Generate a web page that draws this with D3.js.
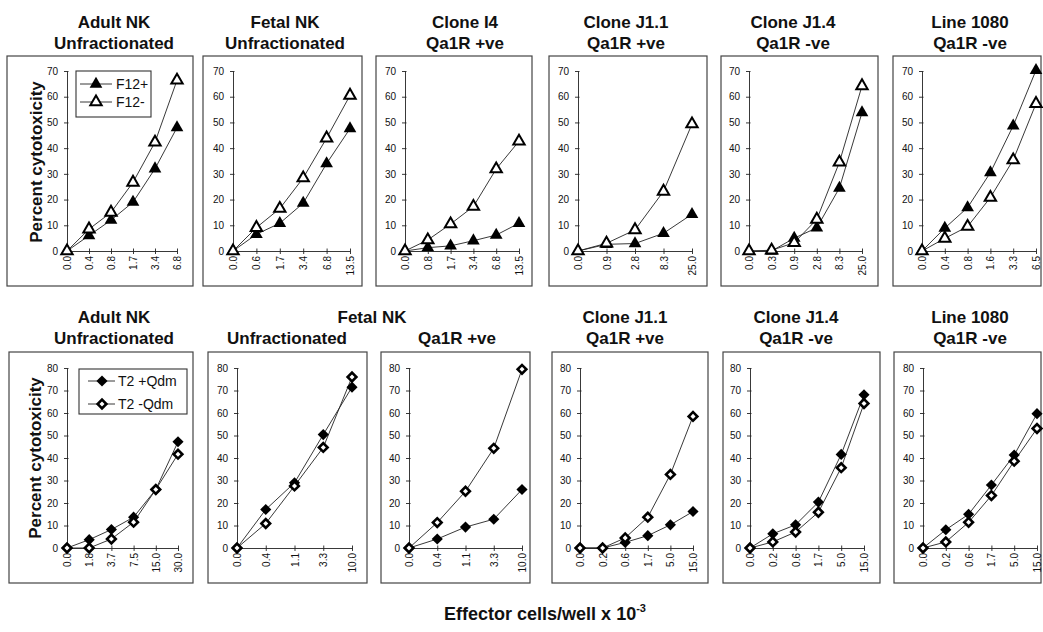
<html>
<head>
  <title>cytotoxicity panels with D3.js</title>
  <meta charset="UTF-8">
  <script src="https://d3js.org/d3.v7.min.js"></script>
  <style>
    body { margin: 0; background: #ffffff; }
    svg { font-family: Arial, "Liberation Sans", Helvetica, sans-serif; }
    .title { font-weight: bold; font-size: 17px; text-anchor: middle; fill: #111; }
    .axis text { font-size: 10px; fill: #111; }
    .axis path, .axis line { stroke: #222; stroke-width: 0.9; }
    .frame { fill: none; stroke: #444; stroke-width: 1.2; }
    .series { fill: none; stroke: #222; stroke-width: 0.9; }
    .legendText { font-size: 14px; fill: #111; }
    .ylabel { font-weight: bold; font-size: 17px; fill: #111; }
  </style>
</head>
<body>
<div id="holder"></div>
<script>
// ---- data ----
var topTitles = [
  ["Adult NK", "Unfractionated"],
  ["Fetal NK", "Unfractionated"],
  ["Clone I4", "Qa1R +ve"],
  ["Clone J1.1", "Qa1R +ve"],
  ["Clone J1.4", "Qa1R -ve"],
  ["Line 1080", "Qa1R -ve"]
];
var topCats = [
  ["0.0", "0.4", "0.8", "1.7", "3.4", "6.8"],
  ["0.0", "0.6", "1.7", "3.4", "6.8", "13.5"],
  ["0.0", "0.8", "1.7", "3.4", "6.8", "13.5"],
  ["0.0", "0.9", "2.8", "8.3", "25.0"],
  ["0.0", "0.3", "0.9", "2.8", "8.3", "25.0"],
  ["0.0", "0.4", "0.8", "1.6", "3.3", "6.5"]
];
var f12Plus = [
  [0, 6, 12, 19, 32, 48],
  [0, 6.5, 10.8, 18.6, 34, 47.6],
  [0, 1.3, 2, 4, 6.2, 10.8],
  [0, 2.6, 2.9, 6.9, 14.3],
  [0, 0, 5, 9, 24.5, 53.8],
  [0, 8.9, 16.9, 30.5, 48.7, 70.3]
];
var f12Minus = [
  [0, 8.5, 15, 26.7, 42.3, 66.4],
  [0, 9.1, 16.5, 28.4, 43.9, 60.5],
  [0, 4.3, 10.5, 17.3, 31.9, 42.7],
  [0, 3, 8.2, 23.2, 49.4],
  [0, 0.3, 3.2, 12.3, 34.5, 64.2],
  [0, 4.9, 9.5, 20.8, 35.4, 57.3]
];
var topYTicks = [0, 10, 20, 30, 40, 50, 60, 70];

var botTitles = [
  ["Adult NK", "Unfractionated"],
  ["", "Unfractionated"],
  ["", "Qa1R +ve"],
  ["Clone J1.1", "Qa1R +ve"],
  ["Clone J1.4", "Qa1R -ve"],
  ["Line 1080", "Qa1R -ve"]
];
var botSpanTitle = "Fetal NK";
var botCats = [
  ["0.0", "1.8", "3.7", "7.5", "15.0", "30.0"],
  ["0.0", "0.4", "1.1", "3.3", "10.0"],
  ["0.0", "0.4", "1.1", "3.3", "10.0"],
  ["0.0", "0.2", "0.6", "1.7", "5.0", "15.0"],
  ["0.0", "0.2", "0.6", "1.7", "5.0", "15.0"],
  ["0.0", "0.2", "0.6", "1.7", "5.0", "15.0"]
];
var t2Plus = [
  [0, 3.7, 8.2, 13.7, 26, 47.2],
  [0, 17.1, 29, 50.4, 71.5],
  [0, 4, 9.3, 12.8, 26],
  [0, 0, 2.5, 5.5, 10.3, 16.2],
  [0, 6.3, 10.3, 20.4, 41.6, 68.1],
  [0, 8.1, 15, 28, 41.3, 59.7]
];
var t2Minus = [
  [0, 0, 4, 11.5, 26, 41.7],
  [0, 10.9, 27.6, 44.7, 76],
  [0, 11.3, 25.2, 44.3, 79.4],
  [0, 0, 4.5, 13.7, 32.7, 58.5],
  [0, 2.7, 7.1, 15.9, 35.7, 64.2],
  [0, 2.7, 11.4, 23.3, 38.6, 53.1]
];
var botYTicks = [0, 10, 20, 30, 40, 50, 60, 70, 80];

// ---- layout ----
var W = 1043, H = 632;
var topBox = [[7, 193], [203, 362], [376, 532], [549, 707], [721, 878], [893, 1041]];
var topPlot = [[67, 177], [233, 350], [405, 519], [578, 692], [749, 862], [922, 1036]];
var topTitleX = [114, 285, 465, 626, 793, 970];
var botBox = [[9, 193], [208, 367], [381, 530], [552, 708], [723, 880], [894, 1041]];
var botPlot = [[67, 178], [237, 352], [409, 522], [580, 693], [750, 864], [923, 1037]];
var botTitleX = [114, 287, 457, 625, 796, 970];

var svg = d3.select("#holder").append("svg")
  .attr("width", W)
  .attr("height", H);

var triangle = d3.symbol().type(d3.symbolTriangle).size(70);
var triangleOpen = d3.symbol().type(d3.symbolTriangle).size(56);
var diamond = d3.symbol().type(d3.symbolSquare).size(62);
var diamondOpen = d3.symbol().type(d3.symbolSquare).size(38);

function drawMarkers(g, pts, kind) {
  var sel = g.selectAll(null).data(pts).enter().append("path")
    .attr("transform", function(d) {
      return "translate(" + d[0] + "," + d[1] + ")" + (kind.indexOf("dia") === 0 ? " rotate(45)" : "");
    });
  if (kind === "triFill") sel.attr("d", triangle).attr("fill", "#000");
  if (kind === "triOpen") sel.attr("d", triangleOpen).attr("fill", "#fff").attr("stroke", "#000").attr("stroke-width", 2);
  if (kind === "diaFill") sel.attr("d", diamond).attr("fill", "#000");
  if (kind === "diaOpen") sel.attr("d", diamondOpen).attr("fill", "#fff").attr("stroke", "#000").attr("stroke-width", 2.6);
}

function drawPanel(row, i) {
  var isTop = row === "top";
  var box = isTop ? topBox[i] : botBox[i];
  var plot = isTop ? topPlot[i] : botPlot[i];
  var cats = isTop ? topCats[i] : botCats[i];
  var s1 = isTop ? f12Plus[i] : t2Plus[i];
  var s2 = isTop ? f12Minus[i] : t2Minus[i];
  var yTicks = isTop ? topYTicks : botYTicks;
  var boxTop = isTop ? 56 : 352, boxBot = isTop ? 286 : 583;
  var yRange = isTop ? [251, 71] : [548, 368];
  var titles = isTop ? topTitles[i] : botTitles[i];
  var tx = isTop ? topTitleX[i] : botTitleX[i];
  var t1y = isTop ? 28 : 323, t2y = isTop ? 49 : 344;

  var g = svg.append("g").attr("class", "panel");

  g.append("rect").attr("class", "frame")
    .attr("x", box[0]).attr("y", boxTop)
    .attr("width", box[1] - box[0]).attr("height", boxBot - boxTop);

  if (titles[0]) g.append("text").attr("class", "title").attr("x", tx).attr("y", t1y).text(titles[0]);
  g.append("text").attr("class", "title").attr("x", tx).attr("y", t2y).text(titles[1]);

  var x = d3.scalePoint().domain(cats).range(plot).padding(0);
  var y = d3.scaleLinear().domain([0, yTicks[yTicks.length - 1]]).range(yRange);

  var gy = g.append("g").attr("class", "axis")
    .attr("transform", "translate(" + plot[0] + ",0)")
    .call(d3.axisLeft(y).tickValues(yTicks).tickSize(3).tickSizeOuter(0).tickPadding(6));
  gy.selectAll(".tick line").attr("x1", 1.5);

  var gx = g.append("g").attr("class", "axis")
    .attr("transform", "translate(0," + y(0) + ")")
    .call(d3.axisBottom(x).tickSize(3).tickSizeOuter(0));
  gx.selectAll(".tick line").attr("y1", -2.5);
  gx.selectAll(".tick text")
    .attr("y", 0).attr("x", -5).attr("dy", "0.35em")
    .attr("transform", "rotate(-90)")
    .style("text-anchor", "end");

  var line = d3.line();
  var p1 = cats.map(function(c, k) { return [x(c), y(s1[k])]; });
  var p2 = cats.map(function(c, k) { return [x(c), y(s2[k])]; });
  g.append("path").attr("class", "series").attr("d", line(p1));
  g.append("path").attr("class", "series").attr("d", line(p2));
  drawMarkers(g, p1, isTop ? "triFill" : "diaFill");
  drawMarkers(g, p2, isTop ? "triOpen" : "diaOpen");
}

for (var i = 0; i < 6; i++) {
  drawPanel("top", i);
  drawPanel("bot", i);
}

// spanning title over the bottom fetal panels
svg.append("text").attr("class", "title").attr("x", 372).attr("y", 323).text(botSpanTitle);

// y labels
svg.append("text").attr("class", "ylabel")
  .attr("transform", "translate(36,162) rotate(-90)")
  .attr("text-anchor", "middle").attr("dy", "0.35em")
  .text("Percent cytotoxicity");
svg.append("text").attr("class", "ylabel")
  .attr("transform", "translate(35,458) rotate(-90)")
  .attr("text-anchor", "middle").attr("dy", "0.35em")
  .text("Percent cytotoxicity");

// legends
function legend(x0, y0, w, h, rows, lx, mx, tx, kinds) {
  var lg = svg.append("g").attr("class", "legend");
  lg.append("rect").attr("x", x0).attr("y", y0).attr("width", w).attr("height", h)
    .attr("fill", "#fff").attr("stroke", "#333").attr("stroke-width", 1.1);
  rows.forEach(function(r, k) {
    lg.append("line").attr("x1", lx[0]).attr("x2", lx[1]).attr("y1", r.y).attr("y2", r.y)
      .attr("stroke", "#222").attr("stroke-width", 0.9);
    drawMarkers(lg, [[mx, r.y]], kinds[k]);
    lg.append("text").attr("class", "legendText").attr("x", tx).attr("y", r.y).attr("dy", "0.36em").text(r.label);
  });
}
legend(76, 71, 75, 46, [{y: 84, label: "F12+"}, {y: 102, label: "F12-"}], [80, 112], 96, 116, ["triFill", "triOpen"]);
legend(79, 369, 108, 45, [{y: 381, label: "T2 +Qdm"}, {y: 404, label: "T2 -Qdm"}], [88, 115], 102, 118, ["diaFill", "diaOpen"]);

// shared x label
var xl = svg.append("text").attr("class", "title")
  .attr("x", 545).attr("y", 620)
  .style("font-size", "18px");
xl.append("tspan").text("Effector cells/well x 10");
xl.append("tspan").attr("dy", -8).style("font-size", "11px").text("-3");
</script>
</body>
</html>
